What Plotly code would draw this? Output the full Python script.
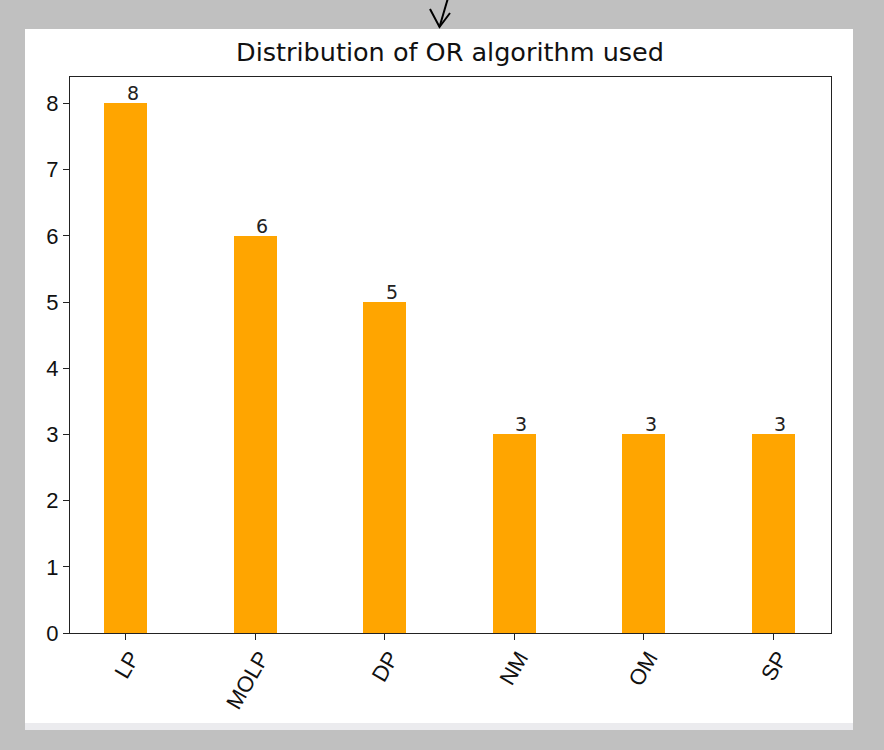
import plotly.graph_objects as go

categories = ["LP", "MOLP", "DP", "NM", "OM", "SP"]
counts = [8, 6, 5, 3, 3, 3]
y_ticks = [0, 1, 2, 3, 4, 5, 6, 7, 8]
title_text = "Distribution of OR algorithm used"

W, H = 884, 750
L, R, T, B = 70, 831, 77, 633


def px(x):
    return (x - L) / (R - L)


def py(y):
    return (B - y) / (B - T)


fig = go.Figure()
fig.add_trace(go.Bar(
    x=list(range(len(categories))),
    y=counts,
    width=0.332,
    marker=dict(color="#FFA500", line=dict(width=0)),
    showlegend=False,
    hoverinfo="skip",
))

for i, v in enumerate(counts):
    fig.add_annotation(
        x=i, y=v, text=str(v), xref="x", yref="y",
        xanchor="left", yanchor="bottom", showarrow=False,
        font=dict(family="DejaVu Sans", size=19, color="#222222"),
        xshift=-1, yshift=-3,
    )

shapes = [
    dict(type="rect", xref="paper", yref="paper", layer="below",
         x0=px(25), x1=px(853), y0=py(723), y1=py(29),
         fillcolor="white", line=dict(width=0)),
    dict(type="rect", xref="paper", yref="paper", layer="below",
         x0=px(25), x1=px(853), y0=py(730), y1=py(723),
         fillcolor="#ebebee", line=dict(width=0)),
    dict(type="path", xref="paper", yref="paper", layer="above",
         path=f"M {px(448)} {py(-2)} L {px(439.5)} {py(27)}",
         line=dict(color="black", width=2)),
    dict(type="path", xref="paper", yref="paper", layer="above",
         path=f"M {px(430)} {py(9)} L {px(439.5)} {py(27)} L {px(450)} {py(13)}",
         line=dict(color="black", width=2)),
]

fig.update_layout(
    width=W, height=H,
    margin=dict(l=L, r=W - R, t=T, b=H - B, pad=0),
    paper_bgcolor="#c0c0c0",
    plot_bgcolor="white",
    shapes=shapes,
    title=dict(text=title_text, x=450 / W, xanchor="center",
               y=1 - 52 / H, yanchor="middle", yref="container",
               font=dict(family="DejaVu Sans", size=25.5, color="#111111")),
    bargap=0,
)

fig.update_xaxes(
    range=[-0.43, 5.444],
    tickmode="array", tickvals=list(range(len(categories))), ticktext=categories,
    tickangle=-60, ticks="outside", ticklen=6, tickwidth=1.3, tickcolor="#222222",
    ticklabelshift=5, ticklabelstandoff=-4,
    showline=True, linecolor="#222222", linewidth=1.3, mirror=True,
    showgrid=False, zeroline=False,
    tickfont=dict(family="Liberation Sans", size=22, color="#111111"),
)
fig.update_yaxes(
    range=[0, 8.4],
    tickmode="array", tickvals=y_ticks,
    ticks="outside", ticklen=6, tickwidth=1.3, tickcolor="#222222",
    showline=True, linecolor="#222222", linewidth=1.3, mirror=True,
    showgrid=False, zeroline=False,
    tickfont=dict(family="Liberation Sans", size=22, color="#111111"),
)

fig.write_html(
    "out.html",
    config={"displayModeBar": False},
    post_script="document.body.style.margin='0';document.body.style.background='#c0c0c0';",
)
